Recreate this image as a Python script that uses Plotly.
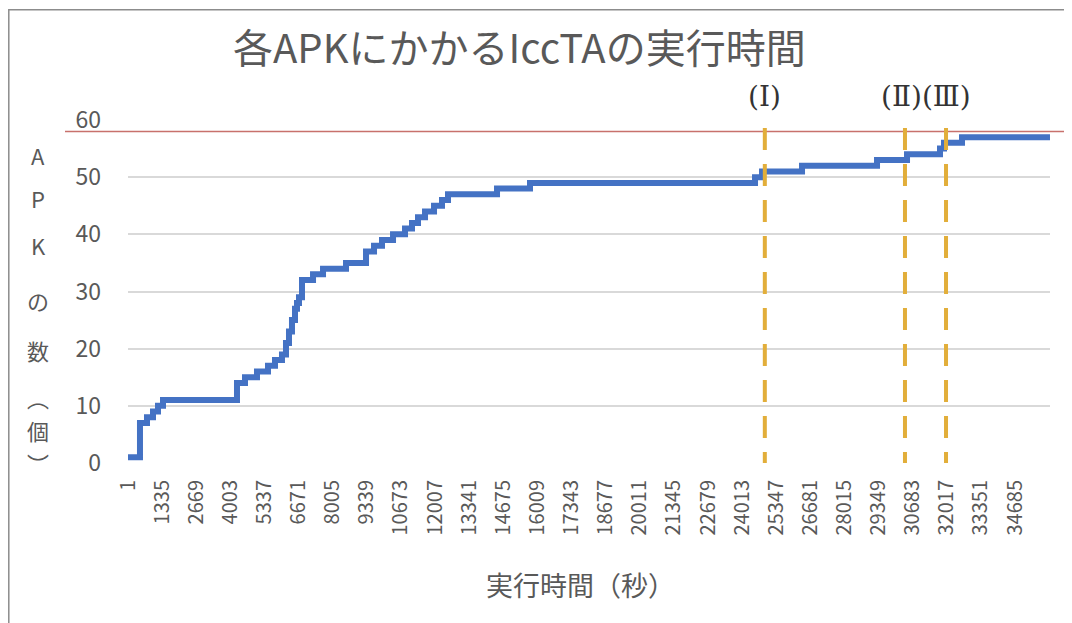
import plotly.graph_objects as go

# ---- data ----
step_times = [1, 469, 743, 978, 1173, 1369, 4262, 4575, 5044, 5474, 5748, 6021,
              6178, 6295, 6412, 6530, 6608, 6686, 6804, 7235, 7626, 8525, 9307,
              9620, 9932, 10363, 10832, 11105, 11340, 11614, 11966, 12278, 12513,
              14429, 15719, 24517, 24791, 26355, 29287, 30460, 31750, 31906, 32610,
              36050]
step_counts = [1, 7, 8, 9, 10, 11, 14, 15, 16, 17, 18, 19,
               21, 23, 25, 27, 28, 29, 32, 33, 34, 35, 37,
               38, 39, 40, 41, 42, 43, 44, 45, 46, 47,
               48, 49, 50, 51, 52, 53, 54, 55, 56, 57,
               57]
x_tick_vals = list(range(1, 34686, 1334))
x_tick_text = [str(v) for v in x_tick_vals]
y_ticks = [0, 10, 20, 30, 40, 50, 60]
total_apk = 58
marker_times = [24900, 30380, 31985]
marker_label_1 = "(Ⅰ)"
marker_label_23 = "(Ⅱ)(Ⅲ)"
title_text = "各APKにかかるIccTAの実行時間"
x_title = "実行時間（秒）"
y_title_chars = ["A", "P", "K", "の", "数", "︵", "個", "︶"]

# ---- layout geometry (pixels in the page; the page body adds an 8px offset) ----
OFF = 8
W_FIG, H_FIG = 1072 - OFF, 623 - OFF
L, R, T, B = 128 - OFF, 1050 - OFF, 120 - OFF, 463 - OFF
PW, PH = R - L, B - T


def px(xp):
    return (xp - OFF - L) / PW


def py(yp):
    return (B - (yp - OFF)) / PH


GRAY = "#595959"
FONT = "Noto Sans CJK JP"
SERIF = "DejaVu Serif, Liberation Serif, Noto Sans CJK JP"

fig = go.Figure()
fig.add_trace(go.Scatter(
    x=step_times, y=step_counts, mode="lines", line_shape="hv",
    line=dict(color="#4472C4", width=6), hoverinfo="x+y", showlegend=False))

shapes = []
# outer frame
shapes.append(dict(type="rect", xref="paper", yref="paper",
                   x0=px(8.8), x1=px(1100), y0=py(9.8), y1=py(660),
                   line=dict(color="#8c8c8c", width=1.5), layer="below"))
# red total line
shapes.append(dict(type="line", xref="paper", yref="y", x0=px(65), x1=px(1080),
                   y0=total_apk, y1=total_apk,
                   line=dict(color="#C8716C", width=1.5)))
# dashed markers
for t in marker_times:
    shapes.append(dict(type="line", xref="x", yref="y", x0=t, x1=t, y0=58.6, y1=0,
                       line=dict(color="#E2AE3A", width=4, dash="22px,14px"),
                       layer="above"))

annotations = []
annotations.append(dict(text=title_text, xref="paper", yref="paper",
                        x=px(519), y=py(46), showarrow=False,
                        font=dict(family=FONT, size=40, color=GRAY),
                        xanchor="center", yanchor="middle"))
annotations.append(dict(text=x_title, xref="paper", yref="paper",
                        x=px(580), y=py(584), showarrow=False,
                        font=dict(family=FONT, size=27, color=GRAY),
                        xanchor="center", yanchor="middle"))
annotations.append(dict(text=marker_label_1, xref="x", yref="paper",
                        x=marker_times[0], y=py(97), showarrow=False,
                        font=dict(family=SERIF, size=28, color="#333333"),
                        xanchor="center", yanchor="middle"))
annotations.append(dict(text=marker_label_23, xref="x", yref="paper",
                        x=(marker_times[1] + marker_times[2]) / 2, y=py(97),
                        showarrow=False,
                        font=dict(family=SERIF, size=28, color="#333333"),
                        xanchor="center", yanchor="middle"))
char_y = [155, 198, 245, 300, 350, 397, 430, 463]
for ch, yy in zip(y_title_chars, char_y):
    annotations.append(dict(text=ch, xref="paper", yref="paper", x=px(38), y=py(yy),
                            showarrow=False,
                            font=dict(family=FONT, size=22, color=GRAY),
                            xanchor="center", yanchor="middle"))

fig.update_layout(
    width=W_FIG, height=H_FIG,
    margin=dict(l=L, r=W_FIG - R, t=T, b=H_FIG - B, autoexpand=False),
    paper_bgcolor="white", plot_bgcolor="white",
    shapes=shapes, annotations=annotations,
    xaxis=dict(range=[0.5, 36050.5], tickmode="array", tickvals=x_tick_vals,
               ticktext=x_tick_text, tickangle=-90, showgrid=False, zeroline=False,
               showline=False, ticks="", ticklabelstandoff=12,
               tickfont=dict(family=FONT, size=20, color=GRAY)),
    yaxis=dict(range=[0, 60], tickvals=y_ticks, showgrid=True, gridcolor="#d9d9d9",
               gridwidth=2, zeroline=False, showline=False, ticks="",
               ticklabelstandoff=26,
               tickfont=dict(family=FONT, size=23, color=GRAY)),
)

fig.write_html("out.html")
